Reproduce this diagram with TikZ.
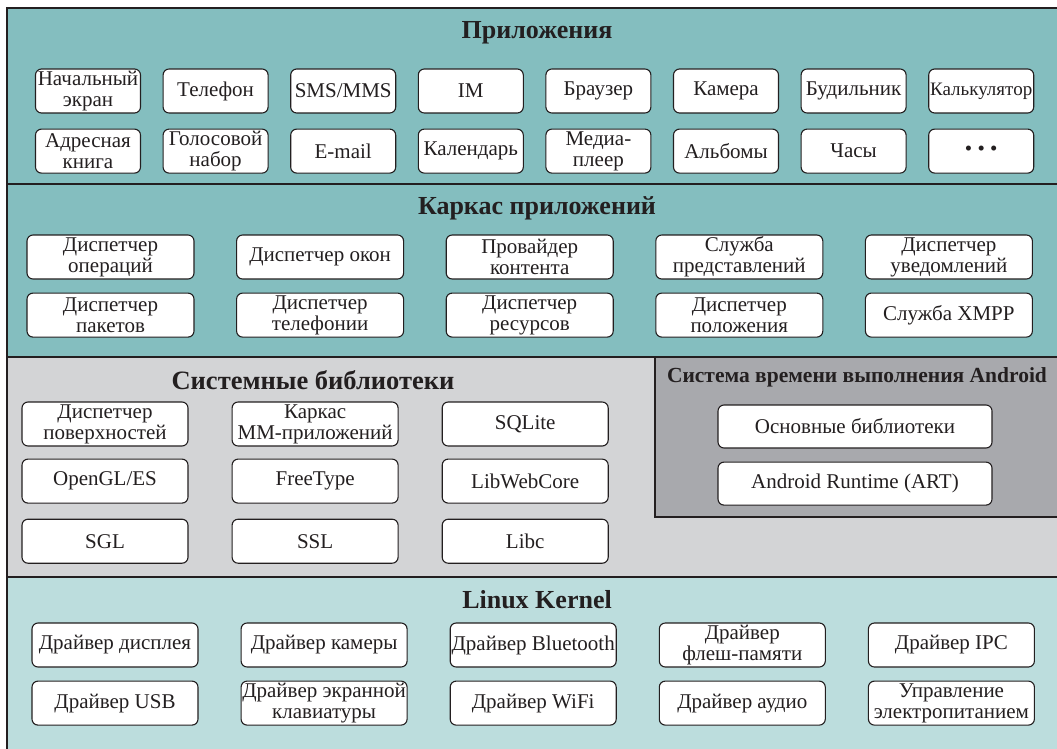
\documentclass[tikz,border=0pt]{standalone}
\usepackage{fontspec}
\setmainfont{Liberation Serif}
\usetikzlibrary{positioning}
\definecolor{appteal}{RGB}{132,190,191}
\definecolor{kernteal}{RGB}{188,221,221}
\definecolor{libgrey}{RGB}{211,212,214}
\definecolor{rtgrey}{RGB}{168,169,173}
\definecolor{frame}{RGB}{35,31,32}

\begin{document}
\begin{tikzpicture}[x=1pt, y=-1pt,
  band/.style={draw=frame, line width=2.5pt},
  ttl/.style={font=\bfseries\fontsize{26}{28}\selectfont, text=frame},
  blk/.style={draw=frame, line width=1.1pt, rounded corners=6pt, fill=white,
              align=center, inner sep=1pt, text=frame,
              font=\fontsize{21}{21}\selectfont},
  app/.style={blk, minimum width=105pt, minimum height=44pt},
  fw/.style={blk, minimum width=167pt, minimum height=44pt},
  lib/.style={blk, minimum width=166pt, minimum height=44pt},
  rt/.style={blk, minimum width=274pt, minimum height=43pt},
  drv/.style={blk, minimum width=166pt, minimum height=44pt}]
  \useasboundingbox (0,0) rectangle (1057,749);
  \clip (0,0) rectangle (1057,749);

  % layers
  \draw[band, fill=appteal] (7,8) rectangle (1070,184);
  \draw[band, fill=appteal] (7,184) rectangle (1070,357);
  \draw[band, fill=libgrey] (7,357) rectangle (1070,577);
  \draw[band, fill=rtgrey] (655,357) rectangle (1070,517);
  \draw[band, fill=kernteal] (7,577) rectangle (1070,760);

  \node[ttl] (tapp) at (537,33) {Приложения};
  \node[ttl] (tfw) at (537,208) {Каркас приложений};
  \node[ttl, font=\bfseries\fontsize{26.5}{28}\selectfont] (tlib) at (313,380) {Системные библиотеки};
  \node[ttl, font=\bfseries\fontsize{21.5}{22}\selectfont] (trt) at (857,377) {Система времени выполнения Android};
  \node[ttl] (tkern) at (537,600) {Linux Kernel};

  % applications
  \node[app] (a1) at (88,91) {Начальный\\экран};
  \node[app, right=21.5pt of a1] (a2) {Телефон};
  \node[app, right=21.5pt of a2] (a3) {SMS/MMS};
  \node[app, right=21.5pt of a3] (a4) {IM};
  \node[app, right=21.5pt of a4] (a5) {Браузер};
  \node[app, right=21.5pt of a5] (a6) {Камера};
  \node[app, right=21.5pt of a6] (a7) {Будильник};
  \node[app, right=21.5pt of a7, font=\fontsize{19}{19}\selectfont] (a8) {Калькулятор};
  \node[app, below=15pt of a1] (b1) {Адресная\\книга};
  \node[app, below=15pt of a2] (b2) {Голосовой\\набор};
  \node[app, below=15pt of a3] (b3) {E-mail};
  \node[app, below=15pt of a4] (b4) {Календарь};
  \node[app, below=15pt of a5] (b5) {Медиа-\\плеер};
  \node[app, below=15pt of a6] (b6) {Альбомы};
  \node[app, below=15pt of a7] (b7) {Часы};
  \node[app, below=15pt of a8] (b8) {\textbullet\ \textbullet\ \textbullet};

  % application framework
  \node[fw] (f1) at (110.5,257) {Диспетчер\\операций};
  \node[fw, right=41.5pt of f1] (f2) {Диспетчер окон};
  \node[fw, right=41.5pt of f2] (f3) {Провайдер\\контента};
  \node[fw, right=41.5pt of f3] (f4) {Служба\\представлений};
  \node[fw, right=41.5pt of f4] (f5) {Диспетчер\\уведомлений};
  \node[fw, below=13pt of f1] (g1) {Диспетчер\\пакетов};
  \node[fw, below=13pt of f2] (g2) {Диспетчер\\телефонии};
  \node[fw, below=13pt of f3] (g3) {Диспетчер\\ресурсов};
  \node[fw, below=13pt of f4] (g4) {Диспетчер\\положения};
  \node[fw, below=13pt of f5] (g5) {Служба XMPP};

  % libraries
  \node[lib] (l1) at (105,424) {Диспетчер\\поверхностей};
  \node[lib, right=43pt of l1] (l2) {Каркас\\ММ-приложений};
  \node[lib, right=43pt of l2] (l3) {SQLite};
  \node[lib, below=12pt of l1] (m1) {OpenGL/ES};
  \node[lib, below=12pt of l2] (m2) {FreeType};
  \node[lib, below=12pt of l3] (m3) {LibWebCore};
  \node[lib, below=15pt of m1] (n1) {SGL};
  \node[lib, below=15pt of m2] (n2) {SSL};
  \node[lib, below=15pt of m3] (n3) {Libc};

  % runtime
  \node[rt] (r1) at (855,426.5) {Основные библиотеки};
  \node[rt, below=13pt of r1] (r2) {Android Runtime (ART)};

  % kernel
  \node[drv] (k1) at (115,645) {Драйвер дисплея};
  \node[drv, right=42pt of k1] (k2) {Драйвер камеры};
  \node[drv, right=42pt of k2] (k3) {Драйвер Bluetooth};
  \node[drv, right=42pt of k3] (k4) {Драйвер\\флеш-памяти};
  \node[drv, right=42pt of k4] (k5) {Драйвер IPC};
  \node[drv, below=13pt of k1] (d1) {Драйвер USB};
  \node[drv, below=13pt of k2] (d2) {Драйвер экранной\\клавиатуры};
  \node[drv, below=13pt of k3] (d3) {Драйвер WiFi};
  \node[drv, below=13pt of k4] (d4) {Драйвер аудио};
  \node[drv, below=13pt of k5] (d5) {Управление\\электропитанием};
\end{tikzpicture}
\end{document}
